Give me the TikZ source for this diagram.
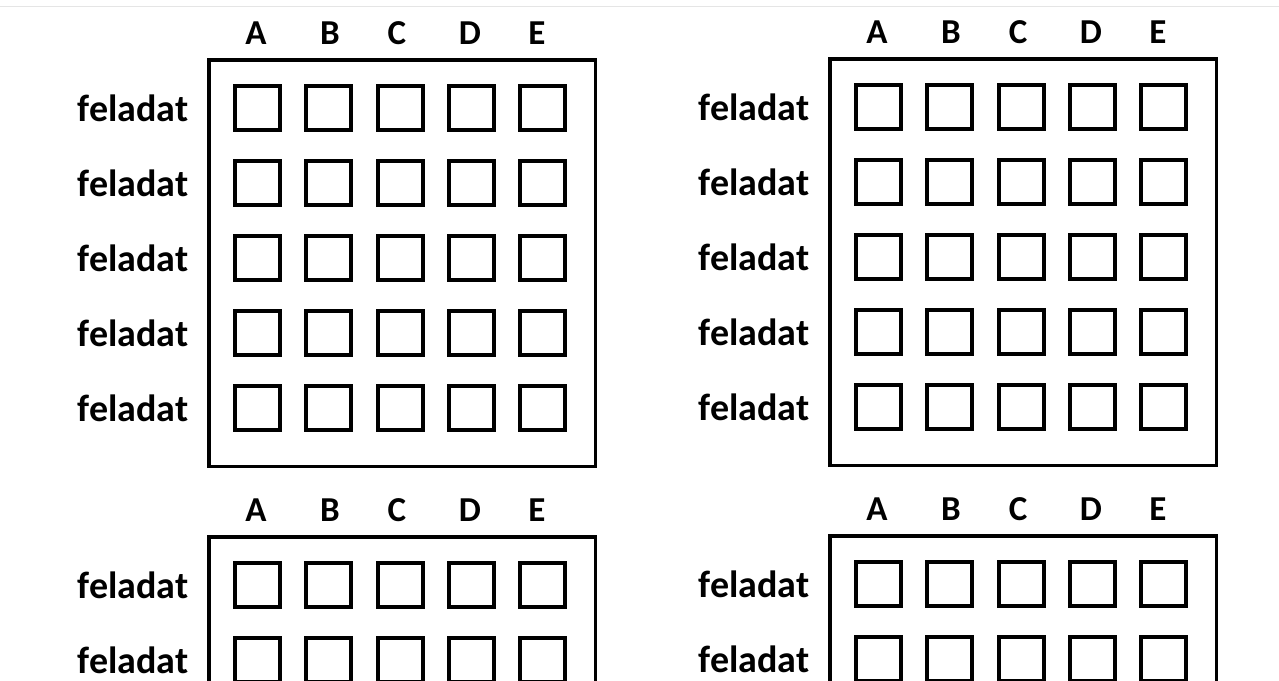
\documentclass[tikz,border=0pt]{standalone}
\usepackage{fontspec}
\setmainfont{Carlito}
\begin{document}
\begin{tikzpicture}[x=1pt,y=-1pt,
            keret/.style={line width=3.5pt},
            kocka/.style={line width=4pt},
            betu/.style={font=\fontsize{35}{35}\selectfont\bfseries,anchor=base},
            felirat/.style={font=\fontsize{38}{38}\selectfont\bfseries,anchor=base east}]
            % háttér
            \fill [white] ( 0, 0 ) rectangle ( 1279, 680 );
            \clip ( 0, 0 ) rectangle ( 1279, 680 );
            \draw [gray!20, line width=1pt] ( 0, 6 ) -- ( 1279, 6 );

            \foreach \g/\ox/\oy in {1/207/58, 2/828/57, 3/207/535, 4/828/534} {
                \begin{scope}[shift={(\ox,\oy)}]
                    % keret
                    \draw [keret] ( 1.75, 1.75 ) rectangle ( 388.25, 408.25 );
                    % betűk
                    \foreach \bx/\betuk in {49/A, 123/B, 190/C, 263/D, 330/E}
                        \node [betu] (betu-\g-\betuk) at ( \bx, -14 ) {\betuk};
                    % sorok
                    \foreach \r in {0,...,4} {
                        \node [felirat] (feladat-\g-\r) at ( -15, 63+75*\r ) {feladat};
                        \foreach \c in {0,...,4}
                            \draw [kocka] ( 28+71.3*\c, 28+75*\r ) rectangle ++( 45, 44 );
                    }
                \end{scope}
            }
        \end{tikzpicture}
\end{document}
